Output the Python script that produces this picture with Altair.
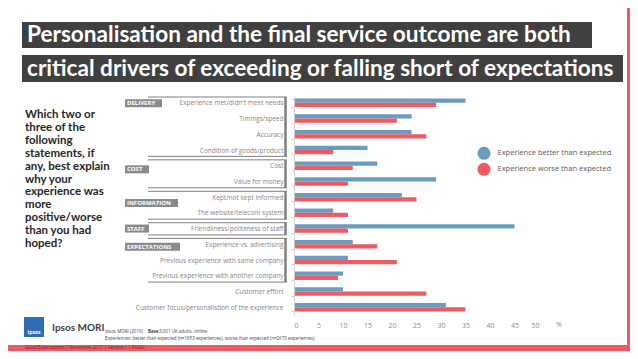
import altair as alt
import pandas as pd

# ---------------- data ----------------
categories = [
    "Experience met/didn't meet needs",
    "Timings/speed",
    "Accuracy",
    "Condition of goods/product",
    "Cost",
    "Value for money",
    "Kept/not kept informed",
    "The website/telecom system",
    "Friendliness/politeness of staff",
    "Experience vs. advertising",
    "Previous experience with same company",
    "Previous experience with another company",
    "Customer effort",
    "Customer focus/personalistion of the experience",
]
better = [35, 24, 24, 15, 17, 29, 22, 8, 45, 12, 11, 10, 10, 31]
worse = [29, 21, 27, 8, 12, 11, 25, 11, 11, 17, 21, 9, 27, 35]
series = ["Experience better than expected", "Experience worse than expected"]
x_ticks = [0, 5, 10, 15, 20, 25, 30, 35, 40, 45, 50]

groups = ["DELIVERY", "COST", "INFORMATION", "STAFF", "EXPECTATIONS"]
group_start = [0, 4, 6, 8, 9]
group_end = [4, 6, 8, 9, 12]
group_label_row = [0.53, 4.73, 6.88, 8.5, 9.65]

title_lines = [
    "Personalisation and the final service outcome are both",
    "critical drivers of exceeding or falling short of expectations",
]
question_lines = [
    "Which two or", "three of the", "following", "statements, if",
    "any, best explain", "why your", "experience was", "more",
    "positive/worse", "than you had", "hoped?",
]
brand = "Ipsos MORI"
logo_text = "Ipsos"
source_a = "Ipsos MORI (2016)"
source_b = "Base"
source_c = "3,001 UK adults, online"
source_2 = ("Experiences: better than expected (n=1653 experiences), "
            "worse than expected (n=2670 experiences)")
footer = "Good Expectations | November 2017 | Version 1 | Public"
unit = "%"

# ---------------- styles / layout ----------------
BLUE = "#679DC1"
RED = "#F05A61"
FRAME = "#F15A60"
DARK = "#404040"
GREY_BOX = "#8a8a8a"
box_width = {"DELIVERY": 37, "COST": 24, "INFORMATION": 53, "STAFF": 24, "EXPECTATIONS": 55}

rows = []
for c, b, w in zip(categories, better, worse):
    rows.append({"category": c, "series": series[0], "value": b})
    rows.append({"category": c, "series": series[1], "value": w})
df = pd.DataFrame(rows)
gdf = pd.DataFrame({"group": groups, "start": group_start, "end": group_end,
                    "row": group_label_row})
one = pd.DataFrame({"k": [0]})

yq = alt.Scale(domain=[0, 14], reverse=True, nice=False, zero=False)


def rect(x, x2, y, y2, color):
    return alt.Chart(one).mark_rect(color=color).encode(
        x=alt.value(x), x2=alt.value(x2), y=alt.value(y), y2=alt.value(y2))


def label(txt, x, y, size, color, weight="normal", font="Open Sans", align="left"):
    return alt.Chart(one).mark_text(
        align=align, baseline="middle", fontSize=size, color=color,
        fontWeight=weight, font=font).encode(
        x=alt.value(x), y=alt.value(y), text=alt.value(txt))


layers = []
# white panel
layers.append(rect(-286, 333, -87, 250, "white"))
# title bars
layers.append(rect(-272, 298, -73, -47, DARK))
layers.append(rect(-272, 329, -40, -13, DARK))
layers.append(label(title_lines[0], -267, -60, 22.6, "white", "bold", "Lato"))
layers.append(label(title_lines[1], -267, -26.5, 22.6, "white", "bold", "Lato"))

# question
layers.append(alt.Chart(one).mark_text(
    align="left", baseline="alphabetic", fontSize=11.5, fontWeight="bold",
    font="Lato", color="#262626", lineBreak="\n", lineHeight=12.9).encode(
    x=alt.value(-269), y=alt.value(23), text=alt.value("\n".join(question_lines))))

# bars
bars = alt.Chart(df).mark_bar().encode(
    x=alt.X("value:Q", scale=alt.Scale(domain=[0, 50], nice=False),
            axis=alt.Axis(values=x_ticks, title=None, grid=False, domain=False,
                          ticks=False, labelFontSize=7, labelColor="#8c8c8c",
                          labelFont="Open Sans", labelPadding=6.5, zindex=2)),
    y=alt.Y("category:N", sort=categories,
            scale=alt.Scale(paddingInner=0.46, paddingOuter=0.23),
            axis=alt.Axis(title=None, labelFontSize=6.5, labelFont="Open Sans",
                          labelColor="#858585", labelPadding=8, tickSize=3,
                          tickBand="extent", tickColor="#cfcfcf",
                          domainColor="#cfcfcf", labelLimit=260, grid=False,
                          zindex=2)),
    yOffset=alt.YOffset("series:N", sort=series,
                        scale=alt.Scale(domain=series, paddingInner=0, paddingOuter=0)),
    color=alt.Color("series:N",
                    scale=alt.Scale(domain=series, range=[BLUE, RED]),
                    legend=alt.Legend(orient="none", legendX=183.5, legendY=51.8,
                                      title=None, symbolType="circle",
                                      symbolSize=169, labelFontSize=7.5,
                                      labelFont="Open Sans", labelColor="#595959",
                                      rowPadding=3, labelOffset=7, padding=0,
                                      symbolStrokeWidth=0)),
)
layers.append(bars)

# group brackets
layers.append(alt.Chart(gdf).mark_rule(color="#7f7f7f", strokeWidth=1, yOffset=2).encode(
    x=alt.value(-146), x2=alt.value(-7), y=alt.Y("start:Q", scale=yq, axis=None)))
layers.append(alt.Chart(gdf).mark_rule(color="#7f7f7f", strokeWidth=1, yOffset=-1.5).encode(
    x=alt.value(-146), x2=alt.value(-7), y=alt.Y("end:Q", scale=yq, axis=None)))
layers.append(alt.Chart(gdf).mark_rule(color="#7f7f7f", strokeWidth=2.5,
                                       yOffset=2, y2Offset=-1.5).encode(
    x=alt.value(-8.5), y=alt.Y("start:Q", scale=yq, axis=None), y2="end:Q"))
for g in groups:
    layers.append(alt.Chart(gdf).transform_filter(alt.datum.group == g).mark_rule(
        color=GREY_BOX, strokeWidth=8).encode(
        x=alt.value(-169), x2=alt.value(-169 + box_width[g]),
        y=alt.Y("row:Q", scale=yq, axis=None)))
layers.append(alt.Chart(gdf).mark_text(
    align="left", baseline="middle", fontSize=6, fontWeight="bold",
    font="Open Sans", color="white").encode(
    x=alt.value(-167), y=alt.Y("row:Q", scale=yq, axis=None), text="group:N"))

# unit
layers.append(label(unit, 262, 230, 7, "#8c8c8c"))

# logo / source / footer
layers.append(rect(-270, -250, 222, 242, "#2f6db5"))
layers.append(label(logo_text, -260, 237, 5, "white", "bold", align="center"))
layers.append(label(brand, -242, 233, 10, "#404040", "bold", "Lato"))
layers.append(label(source_a, -189, 237, 4.5, "#404040"))
layers.append(label(source_b, -146, 237, 4.5, "#404040", "bold"))
layers.append(label(source_c, -135, 237, 4.5, "#404040"))
layers.append(label(source_2, -189, 244, 4.5, "#404040"))
layers.append(label(footer, -269, 252.5, 4.5, "#7a1f22"))

chart = alt.layer(*layers).resolve_scale(y="independent").properties(
    width=245, height=220,
    padding={"left": 286, "top": 87, "right": 91, "bottom": 36},
    autosize=alt.AutoSizeParams(type="none"),
    background=FRAME,
).configure_view(stroke="transparent")

chart.save("out.html", embed_options={"renderer": "svg", "actions": False})
